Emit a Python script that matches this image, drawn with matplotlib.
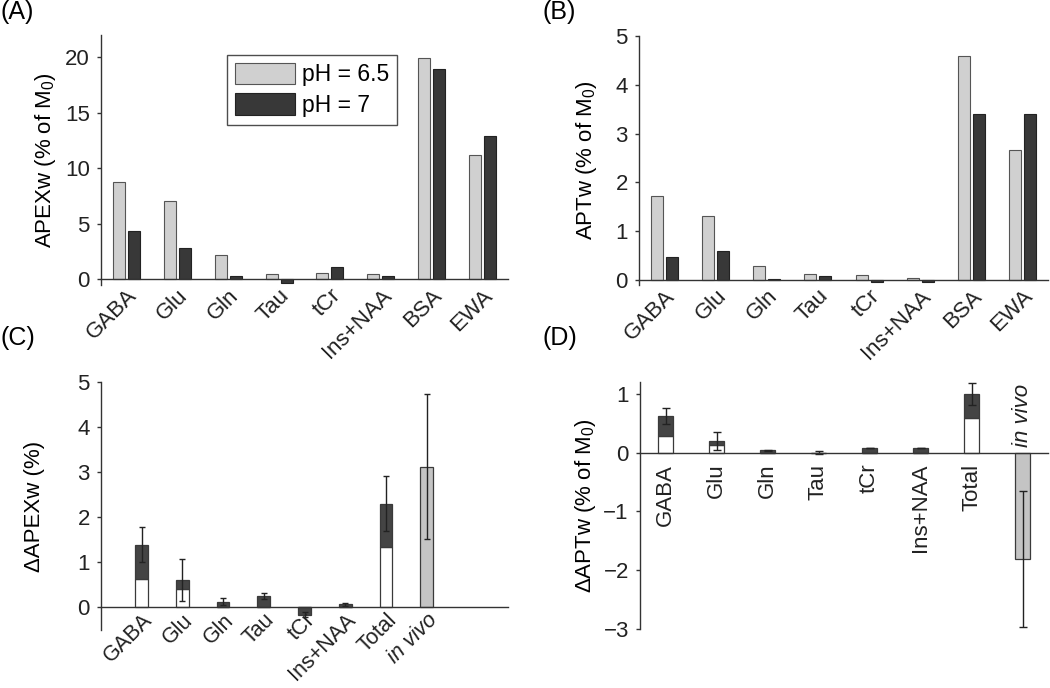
import matplotlib
matplotlib.use("Agg")
import matplotlib.pyplot as plt
import numpy as np

plt.rcParams['font.family'] = ['Liberation Sans', 'DejaVu Sans']
plt.rcParams['mathtext.default'] = 'regular'
plt.rcParams['font.size'] = 16

# ---------------- data ----------------
cats_ab = ['GABA', 'Glu', 'Gln', 'Tau', 'tCr', 'Ins+NAA', 'BSA', 'EWA']
apex_ph65 = [8.8, 7.1, 2.2, 0.45, 0.6, 0.5, 19.9, 11.2]
apex_ph7 = [4.4, 2.8, 0.33, -0.33, 1.08, 0.33, 18.9, 12.9]
apt_ph65 = [1.73, 1.32, 0.29, 0.12, 0.10, 0.05, 4.6, 2.67]
apt_ph7 = [0.48, 0.60, 0.03, 0.075, -0.04, -0.04, 3.4, 3.4]

cats_cd = ['GABA', 'Glu', 'Gln', 'Tau', 'tCr', 'Ins+NAA', 'Total', 'in vivo']
# panel C: white (lower) part, total height, error
dapex_white = [0.62, 0.40, 0.0, 0.0, 0.0, 0.0, 1.33]
dapex_total = [1.39, 0.61, 0.13, 0.26, -0.16, 0.07, 2.30]
dapex_err = [0.39, 0.46, 0.07, 0.07, 0.05, 0.03, 0.61]
dapex_invivo = 3.12
dapex_invivo_err = 1.61
# panel D
dapt_white = [0.28, 0.135, 0.0, 0.0, 0.0, 0.0, 0.59]
dapt_total = [0.62, 0.20, 0.04, 0.0, 0.07, 0.07, 1.00]
dapt_err = [0.13, 0.15, 0.01, 0.02, 0.0, 0.0, 0.19]
dapt_invivo = -1.81
dapt_invivo_err = 1.16

LIGHT = '#d0d0d0'
DARK = '#383838'
SDARK = '#444444'
VIVO = '#c4c4c4'
EDGE = '#3a3a3a'
W, H = 1050, 688

fig = plt.figure(figsize=(W / 100, H / 100), dpi=100)


def px_axes(l, t, r, b):
    return fig.add_axes([l / W, 1 - b / H, (r - l) / W, (b - t) / H])


def style(ax, xpad=4):
    for s in ['top', 'right']:
        ax.spines[s].set_visible(False)
    ax.spines['bottom'].set_position(('data', 0))
    for s in ['left', 'bottom']:
        ax.spines[s].set_color('#333333')
        ax.spines[s].set_linewidth(1.0)
    ax.tick_params(axis='y', direction='out', length=3, width=1, colors='#333333',
                   labelcolor='#222222', labelsize=16, pad=5)
    ax.tick_params(axis='x', length=0, labelsize=16, pad=xpad, labelcolor='#222222')


def rot_labels(ax, labels, italic_last=False, size=16):
    ax.set_xticks(np.arange(1, len(labels) + 1))
    ax.set_xticklabels(labels, rotation=45, ha='right', va='top', rotation_mode='anchor',
                       fontsize=size)
    if italic_last:
        ax.get_xticklabels()[-1].set_style('italic')


# ---------------- (A) ----------------
axA = px_axes(101, 35, 508, 285)
x = np.arange(1, 9)
bw, off = 0.235, 0.147
axA.bar(x - off, apex_ph65, bw, color=LIGHT, edgecolor='#555555', linewidth=0.8, label='pH = 6.5')
axA.bar(x + off, apex_ph7, bw, color=DARK, edgecolor='#222222', linewidth=0.8, label='pH = 7')
axA.set_xlim(0.5, 8.5)
axA.set_ylim(-0.5, 22)
axA.set_yticks([0, 5, 10, 15, 20])
style(axA)
rot_labels(axA, cats_ab)
axA.set_ylabel('APEXw (% of M$_0$)', fontsize=16, labelpad=5)
leg = axA.legend(loc='upper left', bbox_to_anchor=(0.31, 0.92), frameon=True, fancybox=False,
                 edgecolor='#222222', fontsize=16.5, handlelength=2.6, handleheight=1.05,
                 borderpad=0.35, labelspacing=0.3, handletextpad=0.3, borderaxespad=0)
leg.get_frame().set_linewidth(1.0)

# ---------------- (B) ----------------
axB = px_axes(639, 36, 1048, 285)
axB.bar(x - off, apt_ph65, bw, color=LIGHT, edgecolor='#555555', linewidth=0.8)
axB.bar(x + off, apt_ph7, bw, color=DARK, edgecolor='#222222', linewidth=0.8)
axB.set_xlim(0.5, 8.5)
axB.set_ylim(-0.1, 5)
axB.set_yticks([0, 1, 2, 3, 4, 5])
style(axB)
rot_labels(axB, cats_ab)
axB.set_ylabel('APTw (% of M$_0$)', fontsize=16, labelpad=12)

# ---------------- (C) ----------------
axC = px_axes(101, 382, 508, 630)
xc = np.arange(1, 8)
cw = 0.31
white_c = np.array(dapex_white)
tot_c = np.array(dapex_total)
axC.bar(xc, white_c, cw, color='white', edgecolor=EDGE, linewidth=0.9)
axC.bar(xc, tot_c - white_c, cw, bottom=white_c, color=SDARK, edgecolor=EDGE, linewidth=0.9)
axC.errorbar(xc, tot_c, yerr=dapex_err, fmt='none', ecolor='#222222', elinewidth=1, capsize=2.5, capthick=1)
axC.bar([8], [dapex_invivo], cw, color=VIVO, edgecolor=EDGE, linewidth=0.9)
axC.errorbar([8], [dapex_invivo], yerr=[dapex_invivo_err], fmt='none', ecolor='#222222',
             elinewidth=1, capsize=2.5, capthick=1)
axC.set_xlim(0, 10)
axC.set_ylim(-0.5, 5)
axC.set_yticks([0, 1, 2, 3, 4, 5])
style(axC, xpad=1.5)
rot_labels(axC, cats_cd, italic_last=True, size=15.5)
axC.set_ylabel('\u0394APEXw (%)', fontsize=16, labelpad=23)

# ---------------- (D) ----------------
axD = px_axes(640, 382, 1048, 629)
white_d = np.array(dapt_white)
tot_d = np.array(dapt_total)
dw = 0.3
axD.bar(xc, white_d, dw, color='white', edgecolor=EDGE, linewidth=0.9)
axD.bar(xc, tot_d - white_d, dw, bottom=white_d, color=SDARK, edgecolor=EDGE, linewidth=0.9)
axD.errorbar(xc, tot_d, yerr=dapt_err, fmt='none', ecolor='#222222', elinewidth=1, capsize=3, capthick=1)
axD.bar([8], [dapt_invivo], dw, color=VIVO, edgecolor=EDGE, linewidth=0.9)
axD.errorbar([8], [dapt_invivo], yerr=[dapt_invivo_err], fmt='none', ecolor='#222222',
             elinewidth=1, capsize=3, capthick=1)
axD.set_xlim(0.5, 8.5)
axD.set_ylim(-3, 1.2)
axD.set_yticks([-3, -2, -1, 0, 1])
style(axD)
axD.set_xticks([])
for i, lab in enumerate(cats_cd):
    if lab == 'in vivo':
        axD.annotate(lab, (i + 1, 0), xytext=(0, 4), textcoords='offset points', rotation=90,
                     ha='center', va='bottom', fontsize=16, style='italic', color='#222222')
    else:
        axD.annotate(lab, (i + 1, 0), xytext=(0, -8), textcoords='offset points', rotation=90,
                     ha='center', va='top', fontsize=16, color='#222222')
axD.set_ylabel('\u0394APTw (% of M$_0$)', fontsize=16, labelpad=4)

# panel letters
fig.text(0 / W, 1 - 0 / H, '(A)', ha='left', va='top', fontsize=18)
fig.text(543 / W, 1 - 0 / H, '(B)', ha='left', va='top', fontsize=18)
fig.text(0 / W, 1 - 326 / H, '(C)', ha='left', va='top', fontsize=18)
fig.text(543 / W, 1 - 326 / H, '(D)', ha='left', va='top', fontsize=18)

fig.savefig('out.png', dpi=100, facecolor='white')
